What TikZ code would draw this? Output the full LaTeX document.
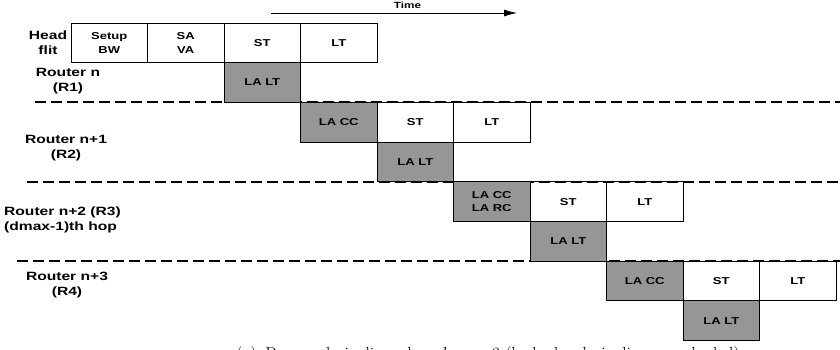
\documentclass[tikz,border=0pt]{standalone}
\usepackage{fontspec}
\usetikzlibrary{arrows.meta}
\newfontfamily\arialf[FakeStretch=1.3]{Liberation Sans}
\definecolor{shade}{RGB}{150,150,150}
\tikzset{
  cell/.style={draw=black, line width=1pt, minimum width=76.5pt, minimum height=39.7pt, inner sep=0pt, align=center, font=\arialf\bfseries\fontsize{10}{13.5}\selectfont},
  lacell/.style={cell, fill=shade},
  rowlabel/.style={align=center, inner sep=0pt, font=\arialf\bfseries\fontsize{12}{15}\selectfont},
  sep/.style={line width=2pt, dash pattern=on 10.5pt off 5.5pt},
}
\begin{document}
\begin{tikzpicture}[x=1pt,y=-1pt]
\useasboundingbox (0,0) rectangle (840,349);
% caption (clipped at the bottom as in the reference)
\begin{scope}
\clip (0,0) rectangle (840,349);
\node[anchor=base, inner sep=0pt, font=\fontsize{17.5}{19}\selectfont] (cap) at (488,359) {(a)\enspace Proposed pipeline when $d_{max}=3$ (look-ahead pipelines are shaded)};
\end{scope}
% separators
\coordinate (s1a) at (35,101.5); \coordinate (s1b) at (840,101.5);
\coordinate (s2a) at (27,181.5); \coordinate (s2b) at (840,181.5);
\coordinate (s3a) at (17,261.2); \coordinate (s3b) at (840,261.2);
\draw[sep] (s1a) -- (s1b);
\draw[sep] (s2a) -- (s2b);
\draw[sep] (s3a) -- (s3b);
% time arrow
\coordinate (ta) at (271,13); \coordinate (tb) at (517,13);
\draw[line width=0.8pt, -{Latex[length=13pt,width=7pt]}] (ta) -- (tb);
\node[font=\arialf\bfseries\fontsize{9}{10}\selectfont, inner sep=0pt] (time) at (407.5,5) {Time};
% head flit row
\node[rowlabel] (hf) at (48,42.5) {Head\\flit};
\node[cell] (bw) at (109.25,42.85) {Setup\\BW};
\node[cell] (sa) at (185.75,42.85) {SA\\VA};
\node[cell] (st0) at (262.25,42.85) {ST};
\node[cell] (lt0) at (338.75,42.85) {LT};
% R1
\node[rowlabel] (r1) at (68,81) {Router n\\(R1)};
\node[lacell] (lalt1) at (262.25,82.55) {LA LT};
% R2
\node[rowlabel] (r2) at (66,148.5) {Router n+1\\(R2)};
\node[lacell] (lacc2) at (338.75,122.25) {LA CC};
\node[cell] (st2) at (415.25,122.25) {ST};
\node[cell] (lt2) at (491.75,122.25) {LT};
\node[lacell] (lalt2) at (415.25,161.95) {LA LT};
% R3
\node[rowlabel, align=left, anchor=west] (r3) at (4,220) {Router n+2 (R3)\\(dmax-1)th hop};
\node[lacell, font=\arialf\bfseries\fontsize{10}{12.5}\selectfont] (lacc3) at (491.75,201.65) {LA CC\\LA RC};
\node[cell] (st3) at (568.25,201.65) {ST};
\node[cell] (lt3) at (644.75,201.65) {LT};
\node[lacell] (lalt3) at (568.25,241.35) {LA LT};
% R4
\node[rowlabel] (r4) at (67,285) {Router n+3\\(R4)};
\node[lacell] (lacc4) at (644.75,281.05) {LA CC};
\node[cell] (st4) at (721.25,281.05) {ST};
\node[cell] (lt4) at (797.75,281.05) {LT};
\node[lacell] (lalt4) at (721.25,320.75) {LA LT};
\end{tikzpicture}
\end{document}
